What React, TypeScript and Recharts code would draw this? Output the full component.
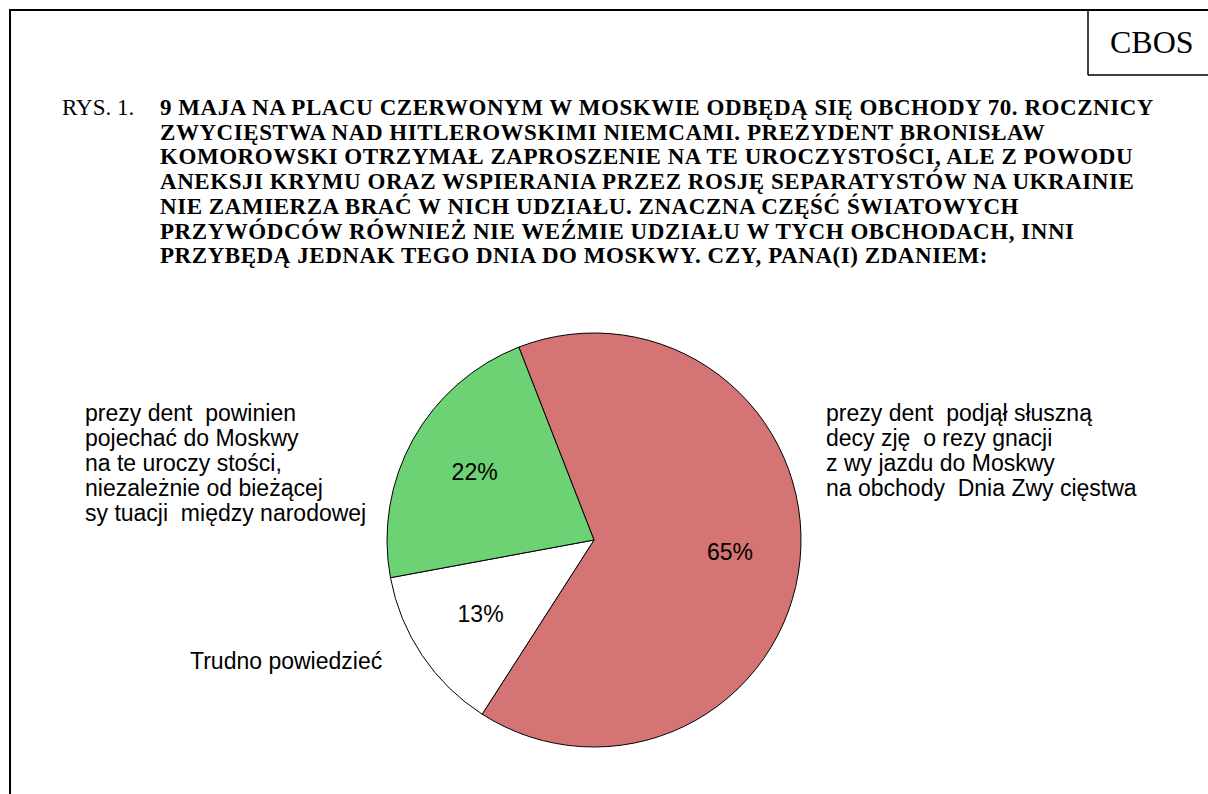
import { PieChart, Pie, Cell } from 'recharts';

// slices, clockwise from the top-left edge of the red one
const categories = ['Podjął słuszną decyzję', 'Trudno powiedzieć', 'Powinien pojechać'];
const shares = [65, 13, 22];
const sliceColors = ['#D47474', '#FFFFFF', '#6CD274'];

const rightLabelLines = [
  'prezy dent  podjął słuszną',
  'decy zję  o rezy gnacji',
  'z wy jazdu do Moskwy',
  'na obchody  Dnia Zwy cięstwa',
];
const bottomLabelLines = ['Trudno powiedzieć'];
const leftLabelLines = [
  'prezy dent  powinien',
  'pojechać do Moskwy',
  'na te uroczy stości,',
  'niezależnie od bieżącej',
  'sy tuacji  między narodowej',
];

const titleLines = [
  '9 MAJA NA PLACU CZERWONYM W MOSKWIE ODBĘDĄ SIĘ OBCHODY 70. ROCZNICY',
  'ZWYCIĘSTWA NAD HITLEROWSKIMI NIEMCAMI. PREZYDENT BRONISŁAW',
  'KOMOROWSKI OTRZYMAŁ ZAPROSZENIE NA TE UROCZYSTOŚCI, ALE Z POWODU',
  'ANEKSJI KRYMU ORAZ WSPIERANIA PRZEZ ROSJĘ SEPARATYSTÓW NA UKRAINIE',
  'NIE ZAMIERZA BRAĆ W NICH UDZIAŁU. ZNACZNA CZĘŚĆ ŚWIATOWYCH',
  'PRZYWÓDCÓW RÓWNIEŻ NIE WEŹMIE UDZIAŁU W TYCH OBCHODACH, INNI',
  'PRZYBĘDĄ JEDNAK TEGO DNIA DO MOSKWY. CZY, PANA(I) ZDANIEM:',
];

const data = categories.map((name, i) => ({ name, value: shares[i] }));

const SANS = 'Arial, "Liberation Sans", sans-serif';
const SERIF = '"Times New Roman", "Liberation Serif", serif';
const RADIAN = Math.PI / 180;

const renderPercent = (props: any) => {
  const { cx, cy, midAngle, outerRadius, value } = props;
  const r = outerRadius * 0.66;
  const x = cx + r * Math.cos(-midAngle * RADIAN);
  const y = cy + r * Math.sin(-midAngle * RADIAN);
  return (
    <text
      x={x}
      y={y - 2}
      textAnchor="middle"
      dominantBaseline="central"
      fill="#000"
      fontFamily={SANS}
      fontSize={23}
    >
      {value}%
    </text>
  );
};

function TextBlock({ lines, x, y }: { lines: string[]; x: number; y: number }) {
  return (
    <text x={x} y={y} fontFamily={SANS} fontSize={23} fill="#000" style={{ whiteSpace: 'pre' }}>
      {lines.map((l, i) => (
        <tspan key={i} x={x} dy={i === 0 ? 0 : 25}>
          {l}
        </tspan>
      ))}
    </text>
  );
}

export default function App() {
  return (
    <div
      style={{
        position: 'absolute',
        left: 0,
        top: 0,
        width: 1208,
        height: 794,
        background: '#fff',
        overflow: 'hidden',
      }}
    >
      <PieChart
        width={1208}
        height={794}
        margin={{ top: 0, right: 0, bottom: 0, left: 0 }}
        style={{ position: 'absolute', left: 0, top: 0 }}
      >
        <Pie
          data={data}
          dataKey="value"
          cx={594}
          cy={540}
          outerRadius={207}
          startAngle={111.3}
          endAngle={-248.7}
          stroke="#000"
          strokeWidth={1}
          label={renderPercent}
          labelLine={false}
          isAnimationActive={false}
        >
          {data.map((d, i) => (
            <Cell key={d.name} fill={sliceColors[i]} />
          ))}
        </Pie>
      </PieChart>

      <svg
        width={1208}
        height={794}
        style={{ position: 'absolute', left: 0, top: 0, pointerEvents: 'none' }}
      >
        {/* frame */}
        <line x1={9} y1={10} x2={1208} y2={10} stroke="#000" strokeWidth={2} />
        <line x1={10} y1={9} x2={10} y2={794} stroke="#000" strokeWidth={2} />
        <line x1={1088} y1={10} x2={1088} y2={75} stroke="#000" strokeWidth={1.5} />
        <line x1={1088} y1={75} x2={1208} y2={75} stroke="#000" strokeWidth={1.5} />
        <text x={1110} y={53} fontFamily={SERIF} fontSize={32} fill="#000">
          CBOS
        </text>

        {/* title */}
        <text x={62} y={115} fontFamily={SERIF} fontSize={23} fill="#000">
          RYS. 1.
        </text>
        <text
          x={160}
          y={115}
          fontFamily={SERIF}
          fontSize={23}
          fontWeight="bold"
          letterSpacing={0.55}
          fill="#000"
        >
          {titleLines.map((l, i) => (
            <tspan key={i} x={160} dy={i === 0 ? 0 : 24.7}>
              {l}
            </tspan>
          ))}
        </text>

        <TextBlock lines={leftLabelLines} x={85} y={421} />
        <TextBlock lines={rightLabelLines} x={826} y={421} />
        <TextBlock lines={bottomLabelLines} x={190} y={669} />
      </svg>
    </div>
  );
}
